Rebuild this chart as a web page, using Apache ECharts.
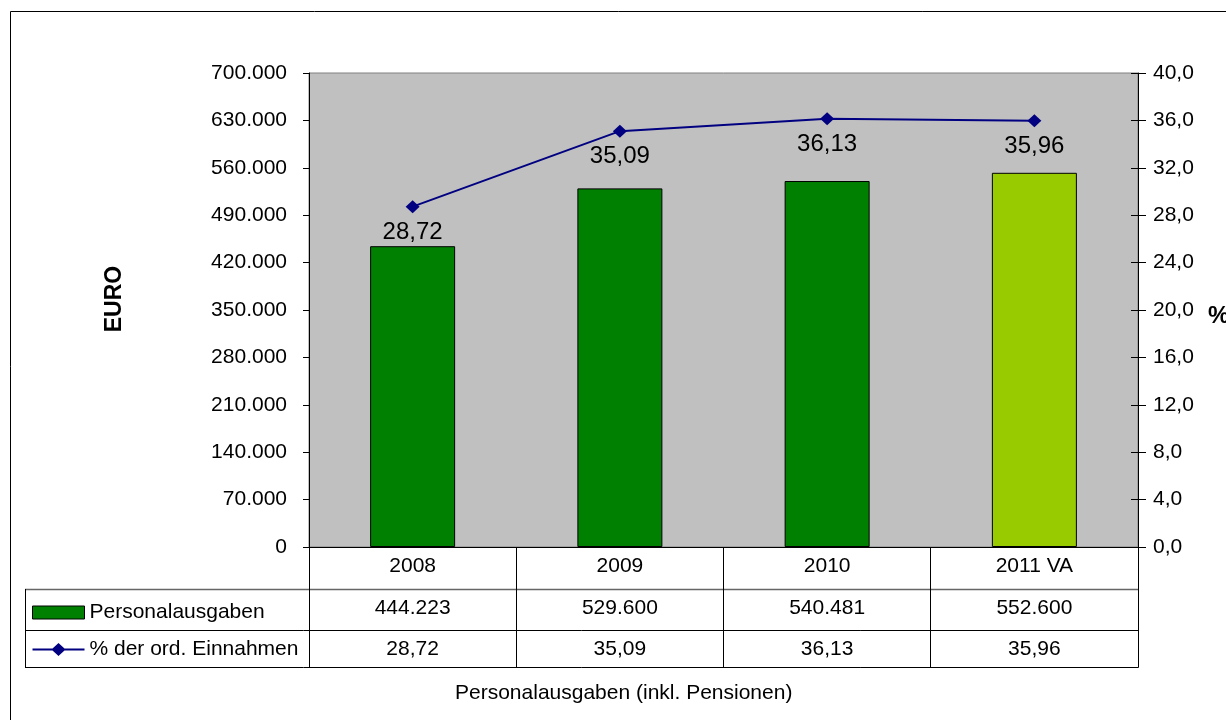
<!DOCTYPE html>
<html>
<head>
<meta charset="utf-8">
<script src="https://cdn.jsdelivr.net/npm/echarts@6/dist/echarts.min.js"></script>
<style>
html,body{margin:0;padding:0;background:#fff;}
#main{width:1226px;height:720px;}
</style>
</head>
<body>
<div id="main"></div>
<script>
const years = ['2008', '2009', '2010', '2011 VA'];
const personalausgaben = [444223, 529600, 540481, 552600];
const anteilProzent = [28.72, 35.09, 36.13, 35.96];
const barColors = ['#008000', '#008000', '#008000', '#99CC00'];
const seriesNames = ['Personalausgaben', '% der ord. Einnahmen'];
const euroTicks = {min: 0, max: 700000, interval: 70000};
const pctTicks = {min: 0, max: 40, interval: 4};

const FONT = 'Liberation Sans, Arial, sans-serif';
function fmtThousands(v) {
  return String(Math.round(v)).replace(/\B(?=(\d{3})+(?!\d))/g, '.');
}
function fmtDec(v, d) { return v.toFixed(d).replace('.', ','); }

const chart = echarts.init(document.getElementById('main'), null, {renderer: 'canvas'});

const G = {left: 309, right: 1138, top: 73, bottom: 547};
const colX = [309, 516, 723, 930, 1138];
const tableLeft = 25;

const graphics = [
  {type: 'rect', shape: {x: 10.5, y: 11.5, width: 1400, height: 900}, style: {fill: 'none', stroke: '#000', lineWidth: 1}, z: 0, silent: true},
  {type: 'text', x: 115, y: 299, rotation: Math.PI / 2, silent: true,
   style: {text: 'EURO', align: 'center', verticalAlign: 'middle', fill: '#000', font: 'bold 23px ' + FONT}},
  {type: 'text', x: 1208, y: 316, silent: true,
   style: {text: '%', align: 'left', verticalAlign: 'middle', fill: '#000', font: 'bold 24px ' + FONT}}
];
[589, 630, 667].forEach(function (y, i) {
  graphics.push({type: 'line', shape: {x1: tableLeft, y1: y + 0.5, x2: G.right + 0.5, y2: y + 0.5},
    style: {stroke: i === 0 ? '#666' : '#000', lineWidth: i === 0 ? 1.5 : 1}, z: 10, silent: true});
});
colX.forEach(function (x) {
  graphics.push({type: 'line', shape: {x1: x + 0.5, y1: G.bottom, x2: x + 0.5, y2: 667.5},
    style: {stroke: '#000', lineWidth: 1}, z: 10, silent: true});
});
graphics.push({type: 'line', shape: {x1: tableLeft + 0.5, y1: 589, x2: tableLeft + 0.5, y2: 667.5},
  style: {stroke: '#000', lineWidth: 1}, z: 10, silent: true});

const lineIcon = 'path://M0,5.5 L20,5.5 L26,0 L32,5.5 L52,5.5 L52,7.5 L32,7.5 L26,13 L20,7.5 L0,7.5 Z';

const option = {
  animation: false,
  textStyle: {fontFamily: FONT},
  title: {
    text: 'Personalausgaben (inkl. Pensionen)',
    left: 450, top: 678,
    textStyle: {fontSize: 21, fontWeight: 'normal', color: '#000', fontFamily: FONT}
  },
  legend: {
    orient: 'vertical', left: 27, top: 597, itemGap: 16,
    itemWidth: 52, itemHeight: 13,
    textStyle: {fontSize: 21, color: '#000', fontFamily: FONT},
    data: [
      {name: seriesNames[0], icon: 'rect', itemStyle: {color: '#008000', borderColor: '#000', borderWidth: 1}},
      {name: seriesNames[1], icon: lineIcon, itemStyle: {color: '#000080', borderWidth: 0}}
    ]
  },
  grid: {
    left: G.left, right: 1226 - G.right, top: G.top, bottom: 720 - G.bottom,
    outerBoundsMode: 'none', containLabel: false,
    show: true, backgroundColor: '#C0C0C0', borderColor: '#808080', borderWidth: 1
  },
  xAxis: [
    {type: 'category', data: years, position: 'bottom',
     axisLine: {show: true, lineStyle: {color: '#000', width: 1}},
     axisTick: {show: false},
     axisLabel: {fontSize: 21, color: '#000', margin: 9, fontFamily: FONT}},
    {type: 'category', data: personalausgaben.map(fmtThousands), position: 'bottom', offset: 42,
     axisLine: {show: false}, axisTick: {show: false},
     axisLabel: {fontSize: 21, color: '#000', margin: 9, fontFamily: FONT}},
    {type: 'category', data: anteilProzent.map(function (v) { return fmtDec(v, 2); }), position: 'bottom', offset: 83,
     axisLine: {show: false}, axisTick: {show: false},
     axisLabel: {fontSize: 21, color: '#000', margin: 9, fontFamily: FONT}}
  ],
  yAxis: [
    {type: 'value', position: 'left', min: euroTicks.min, max: euroTicks.max, interval: euroTicks.interval,
     axisLine: {show: true, lineStyle: {color: '#000'}},
     axisTick: {show: true, inside: false, length: 6, lineStyle: {color: '#000'}},
     splitLine: {show: false},
     axisLabel: {fontSize: 21, color: '#000', margin: 22, formatter: fmtThousands, fontFamily: FONT}},
    {type: 'value', position: 'right', min: pctTicks.min, max: pctTicks.max, interval: pctTicks.interval,
     axisLine: {show: true, lineStyle: {color: '#000'}},
     axisTick: {show: true, inside: false, length: 8, lineStyle: {color: '#000'}},
     splitLine: {show: false},
     axisLabel: {fontSize: 21, color: '#000', margin: 15, formatter: function (v) { return fmtDec(v, 1); }, fontFamily: FONT}},
    {type: 'value', position: 'right', min: pctTicks.min, max: pctTicks.max, interval: pctTicks.interval,
     axisLine: {show: false},
     axisTick: {show: true, inside: true, length: 7, lineStyle: {color: '#000'}},
     splitLine: {show: false}, axisLabel: {show: false}}
  ],
  series: [
    {name: seriesNames[0], type: 'bar', xAxisIndex: 0, yAxisIndex: 0, barWidth: 85,
     itemStyle: {color: '#008000', borderColor: '#000', borderWidth: 1},
     data: personalausgaben.map(function (v, i) {
       return {value: v, itemStyle: {color: barColors[i]}};
     })},
    {name: seriesNames[1], type: 'line', xAxisIndex: 0, yAxisIndex: 1,
     symbol: 'diamond', symbolSize: [14, 13],
     lineStyle: {color: '#000080', width: 2},
     itemStyle: {color: '#000080'},
     label: {show: true, position: 'bottom', distance: 7, fontSize: 24, color: '#000', fontFamily: FONT,
       formatter: function (p) { return fmtDec(p.value, 2); }},
     data: anteilProzent, z: 5}
  ],
  graphic: graphics
};
chart.setOption(option);
</script>
</body>
</html>
